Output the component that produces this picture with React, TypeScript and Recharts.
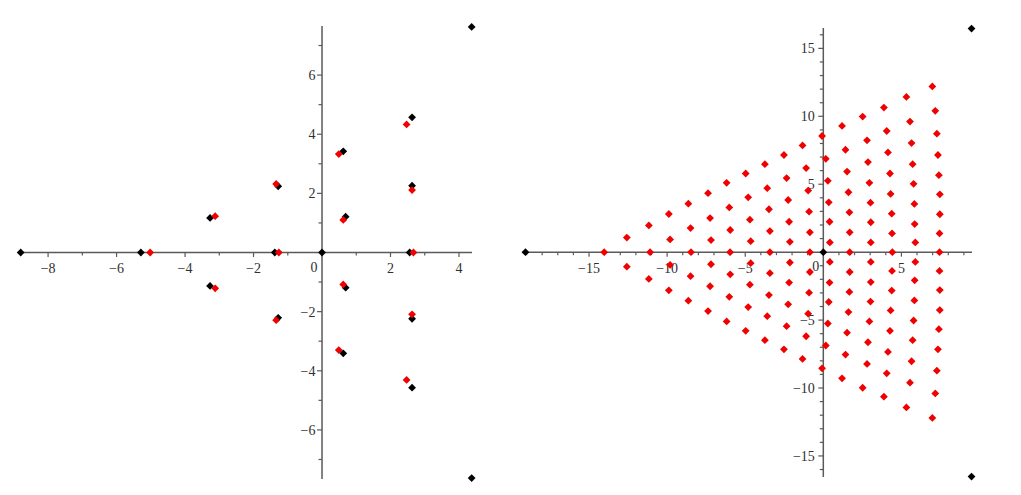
import {
  ScatterChart,
  Scatter,
  XAxis,
  YAxis,
  ReferenceLine,
  ReferenceDot,
} from "recharts";

const FONT = '"Liberation Serif", "Times New Roman", Times, serif';
const AXIS_COLOR = "#5a5a5a";
const TEXT_COLOR = "#303030";
const RED = "#f00000";
const BLACK = "#000000";

// ---- left panel: values ----
const leftBlack: [number, number][] = [
  [-8.8, 0], [-5.29, 0], [-1.38, 0], [0, 0], [2.56, 0],
  [-3.27, 1.17], [-3.27, -1.13],
  [-1.28, 2.24], [-1.28, -2.21],
  [0.69, 1.21], [0.69, -1.19],
  [0.62, 3.42], [0.62, -3.41],
  [2.63, 2.26], [2.63, -2.24],
  [2.63, 4.57], [2.63, -4.57],
  [4.37, 7.63], [4.37, -7.63],
];

const leftRed: [number, number][] = [
  [-5.02, 0], [-1.26, 0], [2.67, 0],
  [-3.12, 1.23], [-3.12, -1.21],
  [-1.34, 2.32], [-1.34, -2.29],
  [0.62, 1.1], [0.62, -1.08],
  [0.49, 3.33], [0.49, -3.3],
  [2.63, 2.11], [2.63, -2.09],
  [2.47, 4.33], [2.47, -4.31],
];

const leftXMajor = [-8, -6, -4, -2, 2, 4];
const leftXLabels = ["\u22128", "\u22126", "\u22124", "\u22122", "2", "4"];
const leftXMinor = [-7, -5, -3, -1, 1, 3];
const leftYMajor = [-6, -4, -2, 2, 4, 6];
const leftYLabels = ["\u22126", "\u22124", "\u22122", "2", "4", "6"];
const leftYMinor = [-7, -5, -3, -1, 1, 3, 5, 7];

// ---- right panel ----
const rightBlack: [number, number][] = [
  [-19.07, 0], [0, 0], [9.49, 16.46], [9.49, -16.52],
];

const rightRedTop: [number, number][] = [
  [-12.58, 1.07],
  [-11.17, 1.97],
  [-9.89, 2.81], [-9.81, 0.94],
  [-8.64, 3.57], [-8.5, 1.77],
  [-7.38, 4.34], [-7.25, 2.51], [-7.19, 0.89],
  [-6.19, 5.1], [-6.02, 3.29], [-5.96, 1.63],
  [-4.97, 5.79], [-4.81, 4.04], [-4.7, 2.39], [-4.65, 0.81],
  [-3.74, 6.48], [-3.59, 4.71], [-3.48, 3.16], [-3.42, 1.55],
  [-2.52, 7.15], [-2.35, 5.45], [-2.25, 3.84], [-2.19, 2.24], [-2.14, 0.76],
  [-1.33, 7.86], [-1.1, 6.19], [-0.97, 4.53], [-0.91, 2.98], [-0.86, 1.46],
  [-0.08, 8.55], [0.16, 6.87], [0.29, 5.25], [0.35, 3.67], [0.4, 2.24], [0.42, 0.72],
  [1.2, 9.29], [1.42, 7.54], [1.52, 5.93], [1.61, 4.41], [1.67, 2.93], [1.69, 1.46],
  [2.52, 9.98], [2.8, 8.23], [2.86, 6.63], [2.95, 5.1], [3.02, 3.64], [3.04, 2.2], [3.04, 0.72],
  [3.88, 10.64], [4.06, 8.92], [4.14, 7.34], [4.27, 5.79], [4.31, 4.29], [4.38, 2.83], [4.4, 1.38],
  [5.32, 11.43], [5.55, 9.61], [5.65, 8.03], [5.72, 6.48], [5.78, 5.03], [5.83, 3.55], [5.85, 2.07], [5.89, 0.72],
  [6.98, 12.2], [7.17, 10.4], [7.27, 8.72], [7.34, 7.15], [7.4, 5.67], [7.46, 4.26], [7.46, 2.79], [7.44, 1.38],
];

const rightRedAxis: [number, number][] = [
  [-14.03, 0], [-11.09, 0], [-8.47, 0], [-5.97, 0], [-3.42, 0],
  [-0.86, 0], [1.69, 0], [4.42, 0], [7.44, 0],
];

const rightRedBottom: [number, number][] = [
  [-12.58, -1.07],
  [-11.17, -1.97],
  [-9.89, -2.81], [-9.81, -0.94],
  [-8.64, -3.57], [-8.5, -1.77],
  [-7.38, -4.34], [-7.25, -2.51], [-7.19, -0.89],
  [-6.19, -5.1], [-6.02, -3.29], [-5.96, -1.63],
  [-4.97, -5.79], [-4.81, -4.04], [-4.7, -2.39], [-4.65, -0.81],
  [-3.74, -6.48], [-3.59, -4.71], [-3.48, -3.16], [-3.42, -1.55],
  [-2.52, -7.15], [-2.35, -5.45], [-2.25, -3.84], [-2.19, -2.24], [-2.14, -0.76],
  [-1.33, -7.86], [-1.1, -6.19], [-0.97, -4.53], [-0.91, -2.98], [-0.86, -1.46],
  [-0.08, -8.55], [0.16, -6.87], [0.29, -5.25], [0.35, -3.67], [0.4, -2.24], [0.42, -0.72],
  [1.2, -9.29], [1.42, -7.54], [1.52, -5.93], [1.61, -4.41], [1.67, -2.93], [1.69, -1.46],
  [2.52, -9.98], [2.8, -8.23], [2.86, -6.63], [2.95, -5.1], [3.02, -3.64], [3.04, -2.2], [3.04, -0.72],
  [3.88, -10.64], [4.06, -8.92], [4.14, -7.34], [4.27, -5.79], [4.31, -4.29], [4.38, -2.83], [4.4, -1.38],
  [5.32, -11.43], [5.55, -9.61], [5.65, -8.03], [5.72, -6.48], [5.78, -5.03], [5.83, -3.55], [5.85, -2.07], [5.89, -0.72],
  [6.98, -12.2], [7.17, -10.4], [7.27, -8.72], [7.34, -7.15], [7.4, -5.67], [7.46, -4.26], [7.46, -2.79], [7.44, -1.38],
];

const rightXMajor = [-15, -10, -5, 5];
const rightXLabels = ["\u221215", "\u221210", "\u22125", "5"];
const rightXMinor = [
  -19, -18, -17, -16, -14, -13, -12, -11, -9, -8, -7, -6,
  -4, -3, -2, -1, 1, 2, 3, 4, 6, 7, 8, 9,
];
const rightYMajor = [-15, -10, -5, 5, 10, 15];
const rightYLabels = ["\u221215", "\u221210", "\u22125", "5", "10", "15"];
const rightYMinor = [
  -16, -14, -13, -12, -11, -9, -8, -7, -6, -4, -3, -2, -1,
  1, 2, 3, 4, 6, 7, 8, 9, 11, 12, 13, 14, 16,
];

type Pt = { x: number; y: number };
const toPts = (arr: [number, number][]): Pt[] => arr.map(([x, y]) => ({ x, y }));

function Diamond({ cx, cy, color }: { cx?: number; cy?: number; color: string }) {
  if (cx == null || cy == null) return null;
  const r = 3.9;
  return (
    <polygon
      points={`${cx},${cy - r} ${cx + r},${cy} ${cx},${cy + r} ${cx - r},${cy}`}
      fill={color}
    />
  );
}

// label drawn next to a tick segment; viewBox comes from the reference element
function TickText(props: any) {
  const { viewBox, txt, ox, oy, side, tAnchor } = props;
  if (!viewBox) return null;
  const bx = side === "y" ? viewBox.x + viewBox.width : viewBox.x;
  return (
    <text
      x={bx + ox}
      y={viewBox.y + oy}
      textAnchor={tAnchor}
      fill={TEXT_COLOR}
      style={{ fontFamily: FONT, fontSize: 14 }}
    >
      {txt}
    </text>
  );
}

type PanelCfg = {
  width: number;
  height: number;
  margin: { top: number; right: number; bottom: number; left: number };
  xDomain: [number, number];
  yDomain: [number, number];
  black: Pt[];
  red: Pt[];
  xMajor: number[];
  xLabels: string[];
  xMinor: number[];
  yMajor: number[];
  yLabels: string[];
  yMinor: number[];
  xLabelDy: number;
  yLabelDx: number;
  zeroDx: number;
  zeroDy: number;
};

function Panel({ cfg }: { cfg: PanelCfg }) {
  const plotW = cfg.width - cfg.margin.left - cfg.margin.right;
  const plotH = cfg.height - cfg.margin.top - cfg.margin.bottom;
  // data units per pixel, used only for tick-mark lengths
  const ux = (cfg.xDomain[1] - cfg.xDomain[0]) / plotW;
  const uy = (cfg.yDomain[1] - cfg.yDomain[0]) / plotH;

  return (
    <ScatterChart width={cfg.width} height={cfg.height} margin={cfg.margin}>
      <XAxis type="number" dataKey="x" domain={cfg.xDomain} hide />
      <YAxis type="number" dataKey="y" domain={cfg.yDomain} hide />
      <ReferenceLine y={0} stroke={AXIS_COLOR} strokeWidth={1.5} />
      <ReferenceLine x={0} stroke={AXIS_COLOR} strokeWidth={1.5} />
      {cfg.xMinor.map((t) => (
        <ReferenceLine
          key={`xm${t}`}
          segment={[{ x: t, y: 0 }, { x: t, y: -3 * uy }]}
          stroke={AXIS_COLOR}
          strokeWidth={1.2}
        />
      ))}
      {cfg.xMajor.map((t, i) => (
        <ReferenceLine
          key={`xM${t}`}
          segment={[{ x: t, y: 0 }, { x: t, y: -4.5 * uy }]}
          stroke={AXIS_COLOR}
          strokeWidth={1.2}
          label={
            <TickText txt={cfg.xLabels[i]} side="x" ox={0} oy={cfg.xLabelDy} tAnchor="middle" />
          }
        />
      ))}
      {cfg.yMinor.map((t) => (
        <ReferenceLine
          key={`ym${t}`}
          segment={[{ x: 0, y: t }, { x: -3.5 * ux, y: t }]}
          stroke={AXIS_COLOR}
          strokeWidth={1.2}
        />
      ))}
      {cfg.yMajor.map((t, i) => (
        <ReferenceLine
          key={`yM${t}`}
          segment={[{ x: 0, y: t }, { x: -5 * ux, y: t }]}
          stroke={AXIS_COLOR}
          strokeWidth={1.2}
          label={
            <TickText txt={cfg.yLabels[i]} side="y" ox={cfg.yLabelDx} oy={5} tAnchor="end" />
          }
        />
      ))}
      <ReferenceDot
        x={0}
        y={0}
        r={0}
        fill="none"
        stroke="none"
        label={
          <TickText txt="0" side="x" ox={cfg.zeroDx} oy={cfg.zeroDy} tAnchor="middle" />
        }
      />
      <Scatter
        data={cfg.black}
        isAnimationActive={false}
        shape={(p: any) => <Diamond cx={p.cx} cy={p.cy} color={BLACK} />}
      />
      <Scatter
        data={cfg.red}
        isAnimationActive={false}
        shape={(p: any) => <Diamond cx={p.cx} cy={p.cy} color={RED} />}
      />
    </ScatterChart>
  );
}

const leftCfg: PanelCfg = {
  width: 500,
  height: 495,
  margin: { top: 26, right: 28, bottom: 16, left: 20 },
  xDomain: [-8.82, 4.38],
  yDomain: [-7.66, 7.66],
  black: toPts(leftBlack),
  red: toPts(leftRed),
  xMajor: leftXMajor,
  xLabels: leftXLabels,
  xMinor: leftXMinor,
  yMajor: leftYMajor,
  yLabels: leftYLabels,
  yMinor: leftYMinor,
  xLabelDy: 20.5,
  yLabelDx: -6.5,
  zeroDx: -8,
  zeroDy: 19,
};

const rightCfg: PanelCfg = {
  width: 521,
  height: 495,
  margin: { top: 28, right: 49, bottom: 18, left: 25 },
  xDomain: [-19.1, 9.52],
  yDomain: [-16.55, 16.5],
  black: toPts(rightBlack),
  red: toPts([...rightRedTop, ...rightRedAxis, ...rightRedBottom]),
  xMajor: rightXMajor,
  xLabels: rightXLabels,
  xMinor: rightXMinor,
  yMajor: rightYMajor,
  yLabels: rightYLabels,
  yMinor: rightYMinor,
  xLabelDy: 21,
  yLabelDx: -8.5,
  zeroDx: -7.5,
  zeroDy: 18.5,
};

export default function App() {
  return (
    <div
      style={{
        position: "absolute",
        left: 0,
        top: 0,
        width: 1021,
        height: 495,
        background: "#ffffff",
      }}
    >
      <div style={{ position: "absolute", left: 0, top: 0 }}>
        <Panel cfg={leftCfg} />
      </div>
      <div style={{ position: "absolute", left: 500, top: 0 }}>
        <Panel cfg={rightCfg} />
      </div>
    </div>
  );
}
